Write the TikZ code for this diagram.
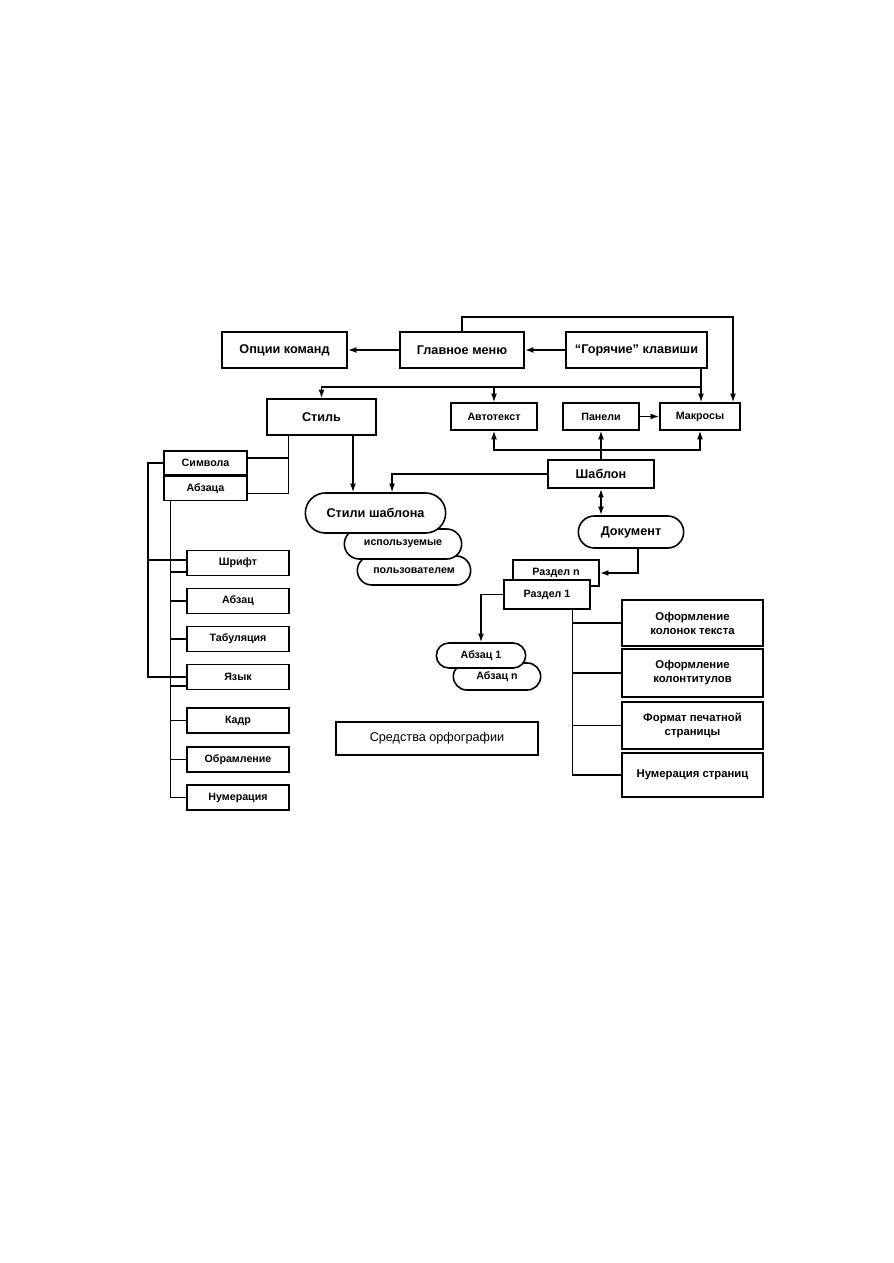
\documentclass[tikz,border=0pt]{standalone}
\usepackage{fontspec}
\setmainfont{Liberation Sans}
\usetikzlibrary{positioning, arrows.meta, shapes.misc, calc}
\tikzset{
  scheme/.style={
	x=0.75pt, y=-0.75pt, % page grid in pixels, y runs downwards
	>={Latex[length=6.5pt,width=4.5pt]}, % filled arrow heads
	line width=1pt, % connectors
	every node/.style={font=\bfseries\fontsize{8}{9.5}\selectfont, inner sep=1pt},
  },
  blk/.style={draw, fill=white, line width=1.2pt, minimum height=20.25pt}, % plain box
  bigblk/.style={blk, font=\bfseries\fontsize{9.5}{11}\selectfont, minimum height=27pt}, % box of the top level
  pill/.style={blk, rounded rectangle}, % rounded ends
  sidebox/.style={blk, minimum width=76.5pt, minimum height=18.75pt}, % boxes of the left column
  pagebox/.style={blk, align=center, minimum width=105.75pt, font=\bfseries\fontsize{8.5}{10.5}\selectfont}, % boxes of the right column
  outer/.style={line width=1.6pt}, % heavy bracket on the left
  thin/.style={line width=0.8pt}, % light branch lines
}

\begin{document}
\begin{tikzpicture}[scheme]
  \fill[white] (0,0) rectangle (893,1263);
  \node[bigblk, minimum width=93.75pt] (opt) at (284.5,350) {Опции команд};
  \node[bigblk, minimum width=93pt] (menu) at (462,350) {Главное меню};
  \node[bigblk, minimum width=105.75pt] (keys) at (636.5,350) {“Горячие” клавиши};
  \node[bigblk, minimum width=81.75pt] (stil) at (321.5,417) {Стиль};
  \node[blk, minimum width=64.5pt] (avto) at (494,416.5) {Автотекст};
  \node[blk, minimum width=57pt] (pan) at (601,416.5) {Панели};
  \node[blk, minimum width=60pt] (makr) at (700,416.5) {Макросы};
  \node[bigblk, minimum width=79.5pt, minimum height=21pt] (shab) at (601,474) {Шаблон};
  \node[bigblk, rounded rectangle, minimum width=81pt, minimum height=24pt] (doc) at (631,532) {Документ};
  \node[pill, minimum width=87pt, minimum height=21.75pt] (st3) at (414,570.5) {пользователем};
  \node[pill, minimum width=90pt, minimum height=22.5pt] (st2) at (403,544) {используемые};
  \node[bigblk, rounded rectangle, minimum width=107.25pt, minimum height=30pt] (st1) at (375.5,513) {Стили шаблона};
  \node[blk, minimum width=64.5pt, minimum height=19.5pt] (rn) at (556,573) {Раздел n};
  \node[blk, minimum width=64.5pt, minimum height=21.75pt] (r1) at (547,594.5) {Раздел 1};
  \node[pill, minimum width=67.5pt] (an) at (497,676.5) {Абзац n};
  \node[pill, minimum width=69pt, minimum height=18.75pt] (a1) at (481,655.5) {Абзац 1};
  \node[blk, font=\fontsize{9.5}{11}\selectfont, minimum width=151.5pt, minimum height=24.75pt] (orf) at (437,738.5) {Средства орфографии};
  \node[blk, minimum width=62.25pt, minimum height=18pt] (sim) at (205.5,463) {Символа};
  \node[blk, minimum width=62.25pt, minimum height=18pt, below=0pt of sim] (abz) {Абзаца};
  \foreach \nm/\yy/\tx in {l1/563/Шрифт, l2/601/Абзац, l3/639/Табуляция, l4/677/Язык,
      l5/720.5/Кадр, l6/759.5/Обрамление, l7/797.5/Нумерация}
    \node[sidebox] (\nm) at (238,\yy) {\tx};
  \node[pagebox, minimum height=34.5pt] (p1) at (692.5,623) {Оформление\\колонок текста};
  \node[pagebox, minimum height=36pt] (p2) at (692.5,673) {Оформление\\колонтитулов};
  \node[pagebox, minimum height=35.25pt] (p3) at (692.5,725.5) {Формат печатной\\страницы};
  \node[pagebox, minimum height=33pt] (p4) at (692.5,775) {Нумерация страниц};

  \coordinate (top) at (733,317);
  \coordinate (hk) at (701,387);
  \coordinate (hub) at (601,450);
  \coordinate (obr) at (148,463);
  \coordinate (sl) at ([xshift=16.5pt]stil.south west);
  \coordinate (ibr) at ([xshift=5.25pt]abz.south west);
  \coordinate (rbr) at ([xshift=51.75pt]r1.south west);

  \draw[->, line width=1.3pt] (menu) -- (opt);
  \draw[->, line width=1.3pt] (keys) -- (menu);
  \draw[->] (menu.north) |- (top) -- (top |- makr.north);
  \draw[->] (keys.south -| hk) -- (hk |- makr.north);
  \draw[->] (hk) -| (stil.north);
  \draw[->] (avto.north |- hk) -- (avto.north);
  \draw[->] (pan) -- (makr);
  \draw (shab.north) -- (hub);
  \draw[->] (hub) -| (avto.south);
  \draw[->] (hub) -| (makr.south);
  \draw[->] (hub) -- (pan.south);
  \draw[<->, line width=1.4pt] (shab.south) -- (shab.south |- doc.north);
  \draw[->, line width=1.3pt] ([xshift=5.25pt]doc.south) |- (rn.east);
  \draw[->] (r1.west) -| (a1.north);
  \draw[->] (shab.west) -| ([xshift=12.4pt]st1.north);
  \draw[->] ([xshift=23.6pt]stil.south) -- ([xshift=23.6pt]stil.south |- st1.north);

  \draw (sl) |- ([yshift=-3.75pt]abz.east);
  \coordinate (s1) at ([yshift=3.75pt]sim.east);
  \draw (s1) -- (s1 -| sl);
  \draw[outer] (sim.west) -- (sim.west -| obr) |- (l4.west);
  \coordinate (o1) at ([yshift=2.25pt]l1.west);
  \draw[outer] (o1) -- (o1 -| obr);
  \draw[thin] (ibr) |- (l7.west);
  \foreach \nm in {l2,l3,l5,l6}
    \draw[thin] (ibr |- \nm.west) -- (\nm.west);
  \foreach \nm in {l1,l4} {
    \coordinate (k) at ([yshift=-6.75pt]\nm.west);
    \draw[thin] (k -| ibr) -- (k);
  }
  \draw (rbr) |- (p4.west);
  \foreach \nm in {p1,p2,p3}
    \draw (rbr |- \nm.west) -- (\nm.west);
\end{tikzpicture}
\end{document}
